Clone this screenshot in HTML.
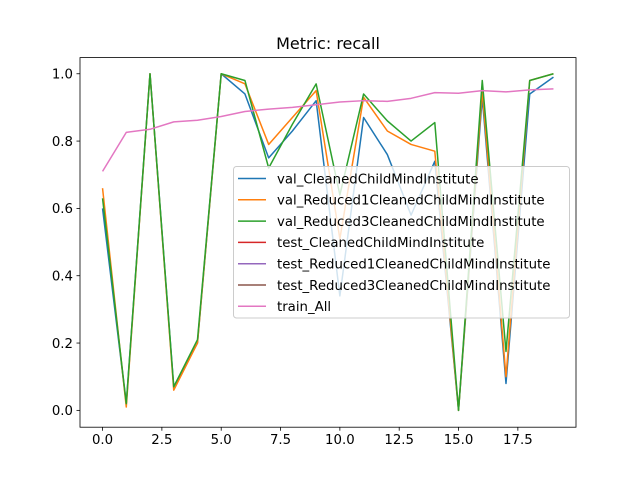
<!DOCTYPE html>
<html><head><meta charset="utf-8"><style>
body{margin:0;background:#fff;}
svg{display:block;font-family:"DejaVu Sans","Liberation Sans",sans-serif;}
</style></head><body>
<svg id="chart" width="640" height="480"></svg>
<script>
const xs=[0,1,2,3,4,5,6,7,8,9,10,11,12,13,14,15,16,17,18,19];
const valCleaned=[0.60,0.02,1.0,0.07,0.20,1.0,0.94,0.75,0.83,0.92,0.34,0.87,0.76,0.58,0.74,0.0,0.93,0.08,0.94,0.99];
const valReduced1=[0.66,0.01,1.0,0.06,0.20,1.0,0.97,0.79,0.87,0.95,0.51,0.93,0.83,0.79,0.77,0.0,0.95,0.10,0.98,1.0];
const valReduced3=[0.63,0.02,1.0,0.07,0.21,1.0,0.98,0.72,0.85,0.97,0.64,0.94,0.86,0.80,0.855,0.0,0.98,0.175,0.98,1.0];
const trainAll=[0.71,0.826,0.835,0.857,0.862,0.873,0.888,0.895,0.90,0.908,0.916,0.92,0.918,0.927,0.944,0.942,0.95,0.946,0.952,0.955];
const xTicks=[0,2.5,5,7.5,10,12.5,15,17.5];
const yTicks=[0,0.2,0.4,0.6,0.8,1.0];
const legendNames=["val_CleanedChildMindInstitute","val_Reduced1CleanedChildMindInstitute","val_Reduced3CleanedChildMindInstitute","test_CleanedChildMindInstitute","test_Reduced1CleanedChildMindInstitute","test_Reduced3CleanedChildMindInstitute","train_All"];
const legendColors=["#1f77b4","#ff7f0e","#2ca02c","#d62728","#9467bd","#8c564b","#e377c2"];

const L=80,R=576,T=57.6,B=427.2;
const xmin=-0.95,xmax=19.95,ymin=-0.05,ymax=1.048;
const X=v=>L+(v-xmin)/(xmax-xmin)*(R-L);
const Y=v=>B-(v-ymin)/(ymax-ymin)*(B-T);
const svg=document.getElementById('chart');
const NS='http://www.w3.org/2000/svg';
function mk(tag,attrs,parent){const e=document.createElementNS(NS,tag);for(const k in attrs)e.setAttribute(k,attrs[k]);(parent||svg).appendChild(e);return e;}

let t=mk('text',{x:328,y:49,'text-anchor':'middle','font-size':16,fill:'#000'});t.textContent='Metric: recall';



xTicks.forEach(v=>{const g=mk('g',{});


mk('line',{x1:X(v),x2:X(v),y1:B,y2:B+3.5,stroke:'#000','stroke-width':0.8},g);
const tx=mk('text',{x:X(v),y:B+17,'text-anchor':'middle','font-size':13.3},g);tx.textContent=v.toFixed(1);});
yTicks.forEach(v=>{const g=mk('g',{});


mk('line',{x1:L-3.5,x2:L,y1:Y(v),y2:Y(v),stroke:'#000','stroke-width':0.8},g);
const tx=mk('text',{x:L-7,y:Y(v)+4.8,'text-anchor':'end','font-size':13.3},g);tx.textContent=v.toFixed(1);});

const series=[[valCleaned,0,'val-cleaned-line'],[valReduced1,1,'val-reduced1-line'],[valReduced3,2,'val-reduced3-line'],[trainAll,6,'train-all-line']];
series.forEach(([d,c,n])=>{const p=mk('polyline',{points:d.map((v,i)=>X(xs[i])+','+Y(v)).join(' '),fill:'none',stroke:legendColors[c],'stroke-width':1.5,'stroke-linejoin':'round'});

});

const ax=mk('rect',{x:L,y:T,width:R-L,height:B-T,fill:'none',stroke:'#000','stroke-width':0.8});



const lg=mk('g',{});


mk('rect',{x:233.5,y:166.5,width:336,height:151.5,rx:3,fill:'#fff','fill-opacity':0.8,stroke:'#ccc','stroke-width':1},lg);
legendNames.forEach((nm,i)=>{const y=178.5+i*21.3;const g=mk('g',{},lg);


mk('line',{x1:238,x2:266,y1:y,y2:y,stroke:legendColors[i],'stroke-width':1.5},g);
const tx=mk('text',{x:277,y:y+4.8,'font-size':13.3},g);tx.textContent=nm;});
</script>
</body></html>
